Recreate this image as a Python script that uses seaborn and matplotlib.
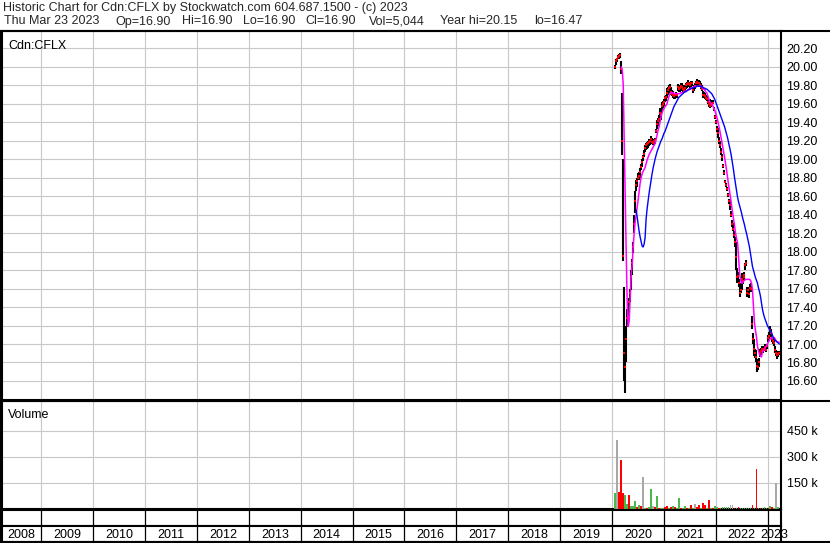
import matplotlib
matplotlib.use("Agg")
import matplotlib.pyplot as plt
import matplotlib.dates as mdates
from matplotlib.lines import Line2D
from matplotlib.ticker import FixedLocator, FuncFormatter
import seaborn as sns
import pandas as pd
import numpy as np

# ---- data (weekly bars, first week ends 2020-01-24) ----
first_week = "2020-01-24"

price_hi = [20.02, 20.08, 20.10, 20.13, 20.14, 20.15,
            20.06, 19.72, 19.00, 17.62, 17.10, 17.20,
            17.38, 17.36, 17.50, 17.60, 17.80, 17.92,
            18.10, 18.40, 18.66, 18.77, 18.80, 18.85,
            18.86, 18.90, 18.95, 19.00, 19.05, 19.10,
            19.15, 19.18, 19.19, 19.20, 19.22, 19.22,
            19.25, 19.23, 19.22, 19.22, 19.23, 19.33,
            19.42, 19.45, 19.48, 19.55, 19.52, 19.62,
            19.63, 19.65, 19.68, 19.70, 19.77, 19.78,
            19.80, 19.81, 19.78, 19.75, 19.74, 19.72,
            19.72, 19.73, 19.72, 19.81, 19.80, 19.80,
            19.82, 19.82, 19.80, 19.80, 19.79, 19.82,
            19.84, 19.86, 19.84, 19.83, 19.85, 19.85,
            19.78, 19.80, 19.82, 19.85, 19.87, 19.86,
            19.86, 19.85, 19.82, 19.80, 19.74, 19.73,
            19.72, 19.70, 19.68, 19.66, 19.65, 19.65,
            19.64, 19.64, 19.64, 19.56, 19.48, 19.43,
            19.36, 19.34, 19.24, 19.20, 19.12, 19.06,
            18.95, 18.88, 18.77, 18.74, 18.70, 18.63,
            18.57, 18.56, 18.44, 18.34, 18.31, 18.22,
            18.16, 18.10, 17.82, 17.78, 17.70, 17.66,
            17.62, 17.77, 17.72, 17.75, 17.78, 17.88,
            17.91, 17.62, 17.62, 17.60, 17.65, 17.66,
            17.30, 17.12, 17.05, 16.95, 16.94, 16.84,
            16.80, 16.85, 16.95, 16.96, 16.98, 16.97,
            16.98, 17.00, 16.98, 17.00, 17.10, 17.13,
            17.19, 17.16, 17.08, 17.06, 17.05, 16.98,
            16.94, 16.91, 16.92, 16.92]

price_lo = [19.98, 20.02, 20.05, 20.08, 20.09, 20.10,
            19.92, 19.05, 17.90, 16.60, 16.47, 16.80,
            17.18, 17.20, 17.35, 17.45, 17.59, 17.75,
            17.98, 18.20, 18.42, 18.66, 18.70, 18.77,
            18.78, 18.80, 18.88, 18.92, 18.98, 19.02,
            19.08, 19.10, 19.11, 19.12, 19.14, 19.15,
            19.18, 19.16, 19.15, 19.16, 19.17, 19.28,
            19.33, 19.36, 19.40, 19.45, 19.42, 19.52,
            19.55, 19.58, 19.62, 19.63, 19.66, 19.70,
            19.72, 19.74, 19.70, 19.68, 19.66, 19.65,
            19.65, 19.66, 19.66, 19.74, 19.73, 19.73,
            19.74, 19.74, 19.73, 19.72, 19.74, 19.76,
            19.77, 19.79, 19.78, 19.76, 19.78, 19.79,
            19.72, 19.74, 19.76, 19.78, 19.79, 19.80,
            19.79, 19.78, 19.76, 19.74, 19.66, 19.66,
            19.65, 19.64, 19.63, 19.60, 19.57, 19.55,
            19.56, 19.58, 19.60, 19.52, 19.44, 19.38,
            19.30, 19.23, 19.16, 19.12, 19.05, 18.98,
            18.91, 18.83, 18.74, 18.70, 18.66, 18.59,
            18.52, 18.45, 18.38, 18.27, 18.22, 18.15,
            18.05, 17.80, 17.66, 17.70, 17.62, 17.51,
            17.55, 17.59, 17.65, 17.68, 17.72, 17.80,
            17.84, 17.51, 17.55, 17.50, 17.58, 17.56,
            17.16, 17.00, 16.87, 16.85, 16.80, 16.70,
            16.72, 16.75, 16.86, 16.88, 16.91, 16.90,
            16.92, 16.94, 16.91, 16.95, 17.02, 17.05,
            17.10, 17.08, 17.02, 17.00, 16.98, 16.90,
            16.87, 16.84, 16.86, 16.88]

price_cl = [20.00, 20.06, 20.08, 20.11, 20.12, 20.13,
            19.98, 19.20, 17.95, 16.90, 16.75, 17.05,
            17.28, 17.30, 17.45, 17.55, 17.72, 17.88,
            18.05, 18.30, 18.55, 18.72, 18.76, 18.80,
            18.82, 18.86, 18.92, 18.97, 19.02, 19.06,
            19.12, 19.15, 19.16, 19.18, 19.19, 19.20,
            19.22, 19.19, 19.18, 19.20, 19.21, 19.31,
            19.38, 19.41, 19.44, 19.50, 19.48, 19.58,
            19.60, 19.62, 19.66, 19.67, 19.72, 19.75,
            19.77, 19.78, 19.73, 19.71, 19.69, 19.68,
            19.69, 19.70, 19.70, 19.78, 19.76, 19.77,
            19.79, 19.78, 19.76, 19.75, 19.77, 19.80,
            19.81, 19.83, 19.81, 19.80, 19.82, 19.83,
            19.75, 19.78, 19.79, 19.82, 19.84, 19.83,
            19.82, 19.80, 19.78, 19.76, 19.70, 19.69,
            19.68, 19.66, 19.65, 19.62, 19.60, 19.58,
            19.59, 19.60, 19.61, 19.54, 19.46, 19.40,
            19.33, 19.28, 19.20, 19.15, 19.08, 19.02,
            18.93, 18.85, 18.75, 18.72, 18.68, 18.61,
            18.55, 18.50, 18.40, 18.30, 18.25, 18.18,
            18.10, 17.94, 17.72, 17.74, 17.66, 17.55,
            17.58, 17.70, 17.68, 17.72, 17.75, 17.85,
            17.88, 17.55, 17.58, 17.54, 17.61, 17.60,
            17.22, 17.05, 16.95, 16.90, 16.86, 16.76,
            16.75, 16.80, 16.90, 16.92, 16.95, 16.94,
            16.95, 16.97, 16.94, 16.98, 17.06, 17.09,
            17.15, 17.12, 17.05, 17.03, 17.01, 16.94,
            16.90, 16.88, 16.89, 16.90]

# short moving average (magenta), starts at week 6
ma_fast_start = 6
ma_fast = [20.00, 19.97, 19.81, 19.20, 18.56, 18.00,
           17.45, 17.19, 17.25, 17.50, 17.75, 17.85,
           18.05, 18.20, 18.32, 18.40, 18.48, 18.56,
           18.65, 18.74, 18.80, 18.84, 18.87, 18.89,
           18.91, 18.95, 18.99, 19.02, 19.05, 19.07,
           19.09, 19.11, 19.13, 19.15, 19.17, 19.21,
           19.26, 19.31, 19.35, 19.40, 19.46, 19.50,
           19.53, 19.55, 19.57, 19.58, 19.60, 19.64,
           19.68, 19.71, 19.72, 19.72, 19.72, 19.71,
           19.71, 19.71, 19.71, 19.71, 19.71, 19.71,
           19.72, 19.72, 19.72, 19.73, 19.73, 19.74,
           19.74, 19.75, 19.76, 19.76, 19.77, 19.77,
           19.78, 19.78, 19.79, 19.79, 19.79, 19.79,
           19.79, 19.79, 19.79, 19.79, 19.77, 19.76,
           19.75, 19.73, 19.72, 19.69, 19.66, 19.62,
           19.61, 19.60, 19.58, 19.56, 19.53, 19.50,
           19.46, 19.42, 19.37, 19.32, 19.26, 19.20,
           19.14, 19.08, 19.02, 18.95, 18.88, 18.80,
           18.72, 18.65, 18.58, 18.50, 18.42, 18.35,
           18.28, 18.20, 18.14, 18.10, 17.95, 17.77,
           17.70, 17.66, 17.66, 17.68, 17.69, 17.70,
           17.70, 17.70, 17.70, 17.70, 17.69, 17.66,
           17.59, 17.41, 17.23, 17.15, 17.08, 16.98,
           16.93, 16.89, 16.87, 16.86, 16.91, 16.93,
           16.94, 16.96, 16.98, 17.00, 17.02, 17.04,
           17.06, 17.07, 17.07, 17.07, 17.07, 17.05,
           17.03, 17.02, 17.02, 17.02]

# long moving average (blue), starts at week 21
ma_slow_start = 21
ma_slow = [18.45, 18.38, 18.30, 18.22, 18.16, 18.11,
           18.06, 18.05, 18.08, 18.15, 18.35, 18.46,
           18.55, 18.63, 18.70, 18.77, 18.84, 18.90,
           18.95, 19.00, 19.04, 19.08, 19.11, 19.14,
           19.17, 19.20, 19.22, 19.25, 19.28, 19.30,
           19.33, 19.36, 19.39, 19.42, 19.45, 19.48,
           19.51, 19.54, 19.57, 19.59, 19.61, 19.63,
           19.65, 19.67, 19.68, 19.69, 19.70, 19.71,
           19.72, 19.73, 19.73, 19.74, 19.75, 19.75,
           19.76, 19.76, 19.77, 19.77, 19.78, 19.78,
           19.78, 19.79, 19.79, 19.79, 19.79, 19.79,
           19.78, 19.78, 19.77, 19.77, 19.76, 19.76,
           19.75, 19.74, 19.73, 19.72, 19.71, 19.69,
           19.67, 19.65, 19.62, 19.59, 19.56, 19.53,
           19.50, 19.47, 19.44, 19.41, 19.38, 19.35,
           19.31, 19.27, 19.23, 19.18, 19.13, 19.08,
           19.02, 18.95, 18.88, 18.80, 18.73, 18.66,
           18.59, 18.54, 18.50, 18.46, 18.42, 18.37,
           18.33, 18.29, 18.24, 18.20, 18.15, 18.10,
           18.05, 17.98, 17.91, 17.84, 17.80, 17.76,
           17.72, 17.69, 17.66, 17.61, 17.57, 17.52,
           17.45, 17.38, 17.33, 17.29, 17.26, 17.23,
           17.20, 17.18, 17.16, 17.14, 17.13, 17.10,
           17.07, 17.05, 17.04, 17.03, 17.02, 17.01,
           17.00]

# volume, two-week bars, in thousands of shares; 1 = up, -1 = down, 0 = unchanged
volume_k = [89, 395, 100, 280, 94, 83, 31, 83, 19, 19,
            48, 10, 25, 19, 181, 6, 8, 10, 117, 19,
            10, 72, 6, 8, 6, 10, 19, 8, 12, 19,
            10, 8, 65, 8, 6, 19, 8, 6, 25, 8,
            31, 10, 25, 8, 37, 25, 8, 54, 6, 8,
            19, 10, 8, 6, 12, 12, 12, 12, 25, 25,
            8, 6, 12, 6, 6, 6, 6, 6, 6, 25,
            8, 230, 4, 6, 6, 12, 6, 8, 19, 12,
            8, 150, 12]
volume_dir = [1, 0, -1, -1, -1, 1, 1, -1, 1, 1,
              1, -1, 1, -1, 0, 1, -1, 1, 1, 0,
              -1, 1, -1, 1, 1, -1, -1, 1, -1, 1,
              -1, 1, 1, -1, 1, 1, -1, 1, -1, 1,
              0, -1, -1, 1, -1, -1, 1, -1, 1, -1,
              1, 1, -1, 1, 1, 1, 1, 1, 0, 0,
              -1, 1, -1, 1, 1, 1, 1, 1, 1, -1,
              1, -1, 1, -1, 1, 1, 1, -1, 1, -1,
              1, 0, 1]

price_ticks = [16.6, 16.8, 17.0, 17.2, 17.4, 17.6, 17.8, 18.0, 18.2,
               18.4, 18.6, 18.8, 19.0, 19.2, 19.4, 19.6, 19.8, 20.0, 20.2]
volume_ticks = [150000, 300000, 450000]
years = list(range(2008, 2024))

header_1 = "Historic Chart for Cdn:CFLX by Stockwatch.com 604.687.1500 - (c) 2023"
header_2 = ["Thu Mar 23 2023", "Op=16.90", "Hi=16.90", "Lo=16.90", "Cl=16.90",
            "Vol=5,044", "Year hi=20.15", "lo=16.47"]

# ---- frames ----
weeks = pd.date_range(first_week, periods=len(price_cl), freq="7D")
bars = pd.DataFrame({"date": weeks, "hi": price_hi, "lo": price_lo, "cl": price_cl})
fast = pd.DataFrame({"date": weeks[ma_fast_start:ma_fast_start + len(ma_fast)], "ma": ma_fast})
slow = pd.DataFrame({"date": weeks[ma_slow_start:ma_slow_start + len(ma_slow)], "ma": ma_slow})
vol = pd.DataFrame({"date": weeks[::2][:len(volume_k)],
                    "volume": np.array(volume_k) * 1000,
                    "dir": volume_dir})

sns.set_theme(style="white")
plt.rcParams["font.family"] = ["Liberation Sans", "DejaVu Sans"]
FS = 9.0

W, H = 830, 543
fig = plt.figure(figsize=(W / 100, H / 100), dpi=100)


def rect(left, top, width, height):
    return [left / W, 1 - (top + height) / H, width / W, height / H]


ax_p = fig.add_axes(rect(2, 31, 779, 369))
ax_v = fig.add_axes(rect(2, 401, 779, 108), sharex=ax_p)
ax_b = fig.add_axes(rect(2, 510, 779, 16), sharex=ax_p)
ax_y = fig.add_axes(rect(2, 526, 779, 16), sharex=ax_p)

x0, x1 = pd.Timestamp("2008-03-29"), pd.Timestamp("2023-04-05")
year_lines = [pd.Timestamp(f"{y}-01-01") for y in years[1:]]
grid_c = "#c8c8c8"

for ax in (ax_p, ax_v, ax_b, ax_y):
    ax.set_xlim(x0, x1)
    ax.xaxis.set_major_locator(FixedLocator(mdates.date2num(year_lines)))
    ax.tick_params(axis="x", length=0, labelbottom=False)
    for s in ax.spines.values():
        s.set_color("black")
        s.set_linewidth(1.5)
    ax.set_facecolor("white")

# price panel
ax_p.set_ylim(16.394, 20.388)
ax_p.yaxis.tick_right()
ax_p.set_yticks(price_ticks)
ax_p.yaxis.set_major_formatter(FuncFormatter(lambda v, p: f"{v:.2f}"))
ax_p.tick_params(axis="y", length=0, pad=4, labelsize=FS, colors="black")
ax_p.grid(True, color=grid_c, lw=0.8)
ax_p.set_axisbelow(True)

ax_p.vlines(bars["date"], bars["lo"], bars["hi"], color="black", lw=1.5, zorder=3)
sns.scatterplot(data=bars, x="date", y="cl", ax=ax_p, color="red", marker="s",
                s=2.6, linewidth=0, zorder=4, legend=False)
sns.lineplot(data=fast, x="date", y="ma", ax=ax_p, color="#ff00ff", lw=1.1, zorder=5)
sns.lineplot(data=slow, x="date", y="ma", ax=ax_p, color="#0000ff", lw=1.0, zorder=5)
ax_p.set_xlabel("")
ax_p.set_ylabel("")
ax_p.text(0.008, 0.975, "Cdn:CFLX", transform=ax_p.transAxes, ha="left", va="top",
          fontsize=FS, color="black")

# volume panel
ax_v.set_ylim(0, 620000)
ax_v.yaxis.tick_right()
ax_v.set_yticks(volume_ticks)
ax_v.set_yticklabels([f"{v // 1000} k" for v in volume_ticks])
ax_v.tick_params(axis="y", length=0, pad=4, labelsize=FS, colors="black")
ax_v.grid(True, color=grid_c, lw=0.8)
ax_v.set_axisbelow(True)
dir_colors = {1: "#4cb84c", -1: "#ff0000", 0: "#a8a8a8"}
ax_v.bar(vol["date"], vol["volume"], width=12,
         color=[dir_colors[d] for d in vol["dir"]], linewidth=0, zorder=3)
ax_v.text(0.008, 0.93, "Volume", transform=ax_v.transAxes, ha="left", va="top",
          fontsize=FS, color="black")

# tick band and year row
for ax in (ax_b, ax_y):
    ax.set_yticks([])
    ax.set_ylim(0, 1)
    ax.grid(True, axis="x", color="black", lw=0.9)

for y in years:
    a = max(pd.Timestamp(f"{y}-01-01"), x0)
    b = min(pd.Timestamp(f"{y + 1}-01-01"), x1)
    mid = a + (b - a) / 2
    ax_y.text(mid, 0.45, str(y), ha="center", va="center", fontsize=FS,
              color="black", clip_on=False)

# header and frame lines
fig.text(3 / W, 1 - 8.5 / H, header_1, ha="left", va="center", fontsize=FS)
hx = [4, 115, 182, 243, 305, 369, 440, 534]
for x, s in zip(hx, header_2):
    fig.text(x / W, 1 - 21.5 / H, s, ha="left", va="center", fontsize=FS)

for yy in (31, 400.5, 542):
    fig.add_artist(Line2D([0, 1], [1 - yy / H] * 2, color="black", lw=1.5,
                          transform=fig.transFigure))
fig.add_artist(Line2D([1 / W, 1 / W], [0, 1 - 31 / H], color="black", lw=1.5,
                      transform=fig.transFigure))

fig.savefig("out.png", dpi=100)
